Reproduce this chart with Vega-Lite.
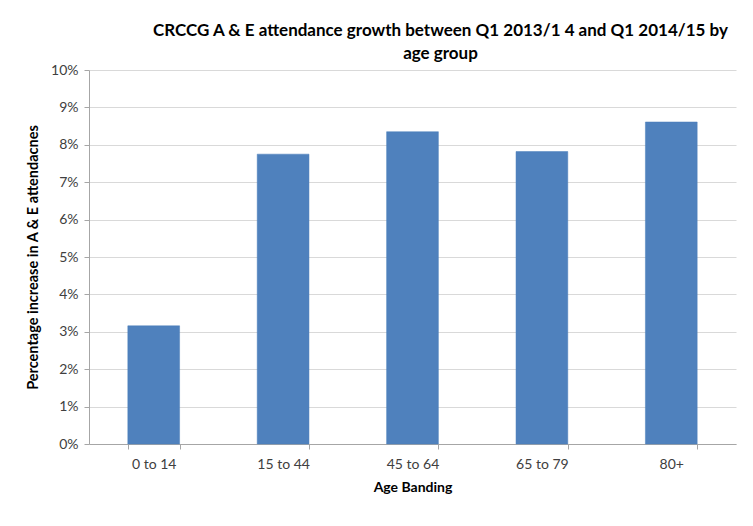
{
  "$schema": "https://vega.github.io/schema/vega-lite/v6.json",
  "autosize": "none",
  "width": 647,
  "height": 374,
  "padding": {"left": 89, "top": 70, "right": 17, "bottom": 82},
  "background": "white",
  "title": {
    "text": ["CRCCG A & E attendance growth between Q1 2013/1 4 and Q1 2014/15 by", "age group"],
    "anchor": "middle",
    "dx": 28,
    "offset": 0,
    "font": "Lato",
    "fontSize": 17,
    "fontWeight": "bold",
    "color": "#000000",
    "lineHeight": 23
  },
  "data": {
    "values": [
      {"band": "0 to 14", "growth": 0.0316},
      {"band": "15 to 44", "growth": 0.0775},
      {"band": "45 to 64", "growth": 0.0835},
      {"band": "65 to 79", "growth": 0.0782},
      {"band": "80+", "growth": 0.0861}
    ]
  },
  "mark": {"type": "bar", "color": "#4F81BD", "stroke": "#4A7EBB", "strokeWidth": 0.5},
  "encoding": {
    "x": {
      "field": "band",
      "type": "nominal",
      "sort": null,
      "scale": {"paddingInner": 0.6, "paddingOuter": 0.3},
      "axis": {
        "title": "Age Banding",
        "labelAngle": 0,
        "tickBand": "extent",
        "grid": false,
        "domainColor": "#A6A6A6",
        "tickColor": "#A6A6A6",
        "tickSize": 5,
        "labelFont": "Lato",
        "labelFontSize": 14,
        "labelColor": "#404040",
        "labelPadding": 8,
        "titleFont": "Lato",
        "titleFontSize": 14,
        "titleFontWeight": "bold",
        "titleColor": "#000000",
        "titlePadding": 9
      }
    },
    "y": {
      "field": "growth",
      "type": "quantitative",
      "scale": {"domain": [0, 0.1], "nice": false},
      "axis": {
        "title": "Percentage increase in A & E attendacnes",
        "values": [0, 0.01, 0.02, 0.03, 0.04, 0.05, 0.06, 0.07, 0.08, 0.09, 0.1],
        "format": ".0%",
        "grid": true,
        "gridColor": "#D9D9D9",
        "gridWidth": 1.2,
        "domainColor": "#A6A6A6",
        "tickColor": "#A6A6A6",
        "tickSize": 5,
        "labelFont": "Lato",
        "labelFontSize": 14,
        "labelColor": "#404040",
        "labelPadding": 6,
        "titleFont": "Lato",
        "titleFontSize": 14.5,
        "titleFontWeight": "bold",
        "titleColor": "#000000",
        "titlePadding": 10
      }
    }
  },
  "config": {"view": {"stroke": null}}
}
